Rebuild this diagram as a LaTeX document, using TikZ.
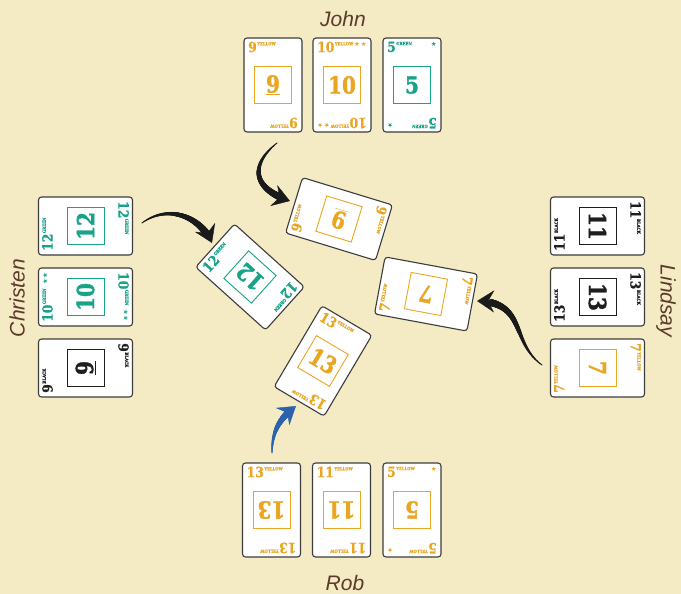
\documentclass[tikz,border=0pt]{standalone}
\usepackage{fontspec}
\usetikzlibrary{arrows.meta,decorations.markings}
\newfontfamily\cardfont[FakeStretch=0.88,FakeBold=0.6]{DejaVu Serif}
\newfontfamily\bigfont[FakeStretch=0.85,FakeBold=1.4]{DejaVu Serif}
\newfontfamily\namefont{Liberation Sans}
\newfontfamily\starfont{DejaVu Sans}
\definecolor{table}{HTML}{F4EBC4}
\definecolor{cyellow}{HTML}{E8A623}
\definecolor{cgreen}{HTML}{17A388}
\definecolor{cblack}{HTML}{1E1E1E}
\definecolor{cedge}{HTML}{3C3C3C}
\definecolor{namebrown}{HTML}{5A3A2A}
\definecolor{playblue}{HTML}{2A62AE}
\definecolor{playblack}{HTML}{1A1A1A}

\tikzset{
  cardbox/.style={draw=cedge, line width=1.1pt, fill=white, rounded corners=3pt,
    minimum width=58pt, minimum height=94pt, inner sep=0pt, transform shape},
  bignum/.style={line width=0.9pt, minimum size=37pt, inner sep=0pt,
    font=\bigfont\bfseries\fontsize{23.5}{23.5}\selectfont, transform shape},
  idx/.style={inner sep=0pt, anchor=north west,
    font=\cardfont\bfseries\fontsize{14}{14}\selectfont, transform shape},
  star/.style={inner sep=0pt, anchor=north east,
    font=\starfont\fontsize{6.5}{6.5}\selectfont, transform shape},
  player/.style={font=\namefont\itshape\fontsize{21}{21}\selectfont, text=namebrown},
  taper/.style={decorate, decoration={markings,
    mark=between positions 0 and 0.86 step 0.4pt with {\fill[#1] (0,0)
      circle[radius={(0.5+3.6*\pgfkeysvalueof{/pgf/decoration/mark info/distance from start}/\pgfdecoratedpathlength)*1pt}];},
    mark=at position 1 with {\arrow[#1]{Stealth[length=17pt,width=22pt,inset=6pt]}}}}
}

\newcommand{\bigdigit}[1]{\ifnum#1=9 \underline{#1}\else#1\fi}
% #1 name, #2 x, #3 y, #4 card turn, #5 number, #6 colour, #7 word, #8 stars, #9 centre turn
\newcommand{\card}[9]{%
  \begin{scope}[shift={(#2,#3)},rotate=#4]
    \node[cardbox] (#1) at (0,0) {};
    \node[bignum,draw=#6,text=#6,rotate=#9] (#1n) at (0,0) {\bigdigit{#5}};
    \foreach \turn in {0,180}{
      \begin{scope}[rotate=\turn]
        \node[idx,text=#6] (#1i\turn) at (-25,43.5)
          {#5\hspace{0.5pt}\raisebox{6.8pt}{\fontsize{4.3}{4.3}\selectfont #7}};
        \node[star,text=#6] (#1s\turn) at (25,43) {#8};
      \end{scope}}
  \end{scope}}

\begin{document}
\begin{tikzpicture}[x=1pt,y=1pt]
\useasboundingbox (0,0) rectangle (681,594);
\fill[table] (0,0) rectangle (681,594);

% players
\node[player] (john) at (343,575) {John};
\node[player] (rob) at (345,11) {Rob};
\node[player,rotate=90] (christen) at (17,296) {Christen};
\node[player,rotate=-90] (lindsay) at (666,293) {Lindsay};

% John
\card{j9}{273}{509}{0}{9}{cyellow}{YELLOW}{}{0}
\card{j10}{342}{509}{0}{10}{cyellow}{YELLOW}{★\,★}{0}
\card{j5}{412}{509}{0}{5}{cgreen}{GREEN}{★}{0}

% Rob
\card{r13}{271.5}{84}{0}{13}{cyellow}{YELLOW}{}{180}
\card{r11}{341.5}{84}{0}{11}{cyellow}{YELLOW}{}{180}
\card{r5}{412}{84}{0}{5}{cyellow}{YELLOW}{★}{180}

% Christen
\card{c12}{85.5}{368}{90}{12}{cgreen}{GREEN}{}{0}
\card{c10}{85.5}{297}{90}{10}{cgreen}{GREEN}{★\,★}{0}
\card{c9}{85.5}{226}{90}{9}{cblack}{BLACK}{}{0}

% Lindsay
\card{l11}{597.5}{368}{-90}{11}{cblack}{BLACK}{}{0}
\card{l13}{597.5}{297}{-90}{13}{cblack}{BLACK}{}{0}
\card{l7}{597.5}{226}{-90}{7}{cyellow}{YELLOW}{}{0}

% played cards
\card{p9}{339}{375}{73}{9}{cyellow}{YELLOW}{}{90}
\card{p12}{250}{317}{48}{12}{cgreen}{GREEN}{}{90}
\card{p7}{426}{300}{79.5}{7}{cyellow}{YELLOW}{}{90}
\card{p13}{323}{233}{-30.6}{13}{cyellow}{YELLOW}{}{0}

% moves
\coordinate (jtail) at (277,451);
\coordinate (jtip) at (290,393);
\coordinate (ctail) at (142,371);
\coordinate (ctip) at (212,351);
\coordinate (ltail) at (542,229);
\coordinate (ltip) at (477,293);
\coordinate (rtail) at (272,141);
\coordinate (rtip) at (296,188);
\path[taper=playblack] (jtail) .. controls (253,432) and (248,407) .. (jtip);
\path[taper=playblack] (ctail) .. controls (168,390) and (200,378) .. (ctip);
\path[taper=playblack] (ltail) .. controls (510,252) and (527,292) .. (ltip);
\path[taper=playblue] (rtail) .. controls (272,166) and (282,177) .. (rtip);
\end{tikzpicture}
\end{document}
